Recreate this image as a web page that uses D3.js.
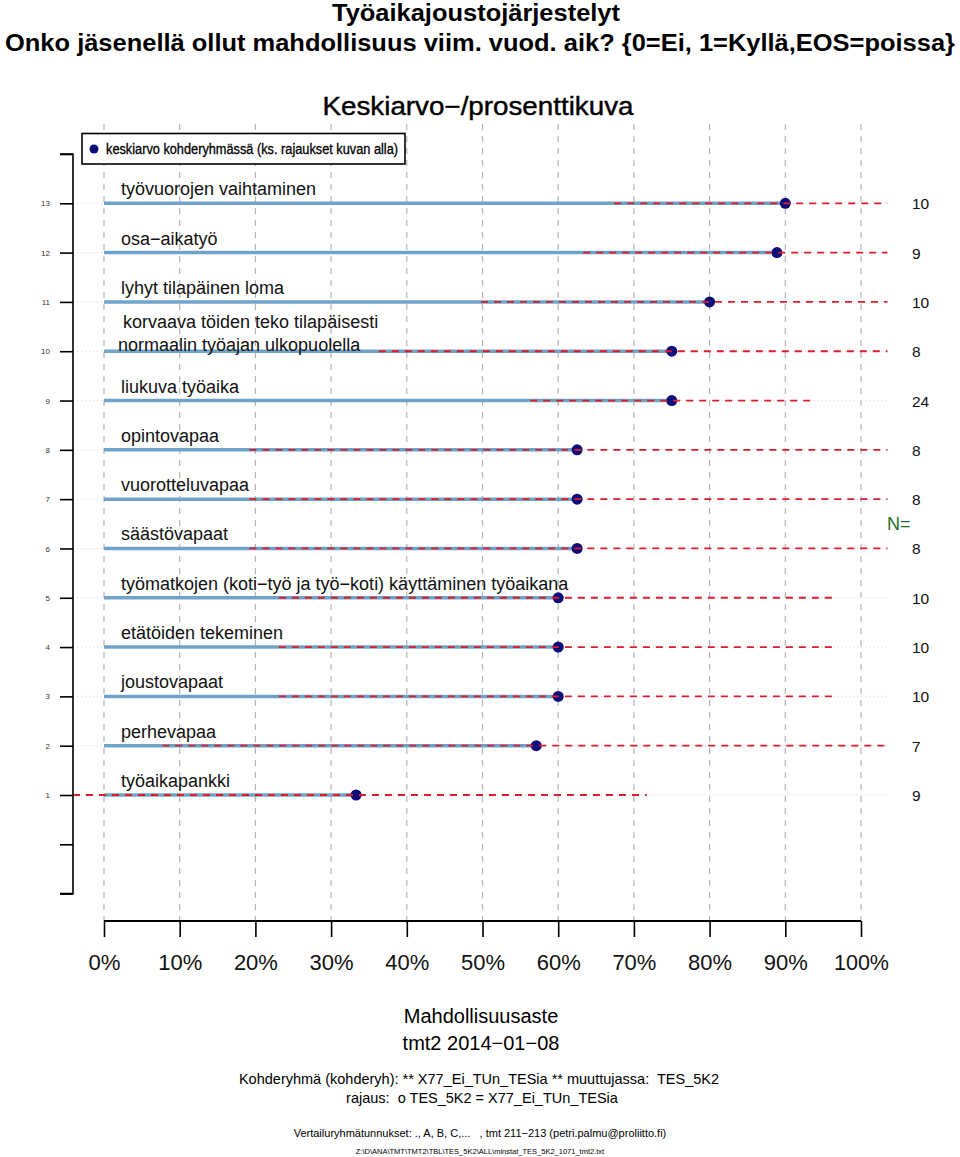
<!DOCTYPE html>
<html><head><meta charset="utf-8">
<script src="https://cdn.jsdelivr.net/npm/d3@7"></script>
<style>body{margin:0;background:#fff}svg{display:block;font-family:"Liberation Sans",Arial,sans-serif}</style>
</head><body><svg id="c" width="960" height="1157"></svg>
<script>
// rows from top (row 13) to bottom (row 1)
const rowIds = [13,12,11,10,9,8,7,6,5,4,3,2,1];
const labels = [
  ["työvuorojen vaihtaminen"],
  ["osa\u2212aikatyö"],
  ["lyhyt tilapäinen loma"],
  [" korvaava töiden teko tilapäisesti","normaalin työajan ulkopuolella"],
  ["liukuva työaika"],
  ["opintovapaa"],
  ["vuorotteluvapaa"],
  ["säästövapaat"],
  ["työmatkojen (koti\u2212työ ja työ\u2212koti) käyttäminen työaikana"],
  ["etätöiden tekeminen"],
  ["joustovapaat"],
  ["perhevapaa"],
  ["työaikapankki"]
];
const values = [90, 88.9, 80, 75, 75, 62.5, 62.5, 62.5, 60, 60, 60, 57.1, 33.3];
const lower  = [67.4, 63.3, 49.8, 36.3, 56.3, 19.2, 19.2, 19.2, 23.1, 23.1, 23.1, 7.7, -5.1];
const upper  = [113.0, 114.5, 110.0, 113.7, 93.7, 105.8, 105.8, 105.8, 96.9, 96.9, 96.9, 106.6, 71.7];
const nValues = [10, 9, 10, 8, 24, 8, 8, 8, 10, 10, 10, 7, 9];
const xTicks = [0,10,20,30,40,50,60,70,80,90,100];
const yTicks = [-1,0,1,2,3,4,5,6,7,8,9,10,11,12,13,14];

const svg = d3.select("#c");
const x = d3.scaleLinear().domain([0,100]).range([104,861]);
const y = d3.scaleLinear().domain([1,13]).range([795,203.3]);
const xMin = -4.1, xMax = 103.5;
const plotTop = 124, plotBottom = 921;

// vertical grid
svg.append("g").selectAll("line").data(xTicks).join("line")
  .attr("x1",d=>x(d)).attr("x2",d=>x(d)).attr("y1",plotTop).attr("y2",plotBottom)
  .attr("stroke","#b4b4b4").attr("stroke-width",1.2).attr("stroke-dasharray","6,6");

// row dotted background
svg.append("g").selectAll("line").data(rowIds).join("line")
  .attr("x1",x(xMin)).attr("x2",x(xMax)).attr("y1",d=>y(d)).attr("y2",d=>y(d))
  .attr("stroke","#d0d0d0").attr("stroke-width",1).attr("stroke-dasharray","1,3");

// blue bars
svg.append("g").selectAll("line").data(rowIds).join("line")
  .attr("x1",x(0)).attr("x2",(d,i)=>x(values[i])).attr("y1",d=>y(d)).attr("y2",d=>y(d))
  .attr("stroke","#6fa3c8").attr("stroke-width",3.5);

// dots
svg.append("g").selectAll("circle").data(rowIds).join("circle")
  .attr("cx",(d,i)=>x(values[i])).attr("cy",d=>y(d)).attr("r",5.5)
  .attr("fill","#0b0b7a");

// red dashed interval
svg.append("g").selectAll("line").data(rowIds).join("line")
  .attr("x1",(d,i)=>x(Math.max(lower[i],xMin))).attr("x2",(d,i)=>x(Math.min(upper[i],xMax)))
  .attr("y1",d=>y(d)).attr("y2",d=>y(d))
  .attr("stroke","#dd1c2c").attr("stroke-width",1.8).attr("stroke-dasharray","7,6");

// row labels
const lg = svg.append("g").attr("font-size",18).attr("fill","#111");
rowIds.forEach((r,i)=>{
  const ls = labels[i];
  if (ls.length===1) {
    lg.append("text").attr("x",121).attr("y",y(r)-8).text(ls[0]);
  } else {
    lg.append("text").attr("x",118).attr("y",y(r)-23).attr("xml:space","preserve").style("white-space","pre").text(ls[0]);
    lg.append("text").attr("x",118).attr("y",y(r)).text(ls[1]);
  }
});

// N values
svg.append("g").selectAll("text").data(rowIds).join("text")
  .attr("x",912).attr("y",d=>y(d)+6).attr("font-size",15.5).attr("fill","#111")
  .text((d,i)=>nValues[i]);
svg.append("text").attr("x",887).attr("y",y(6.5)+6).attr("font-size",18).attr("fill","#1e6e2a").text("N=");

// y axis
const yAxis = d3.axisLeft(y).tickValues(yTicks).tickSize(13).tickPadding(10)
  .tickFormat(d=> (d>=1 && d<=13) ? d : "");
const ya = svg.append("g").attr("transform","translate(73,0)").call(yAxis);
ya.select(".domain").attr("d",`M-13,${y(14)}H0V${y(-1)}H-13`).attr("stroke","#000").attr("stroke-width",1.6).attr("fill","none");
ya.selectAll(".tick line").attr("stroke","#000").attr("stroke-width",1.6);
ya.selectAll(".tick text").attr("font-size",8).attr("fill","#333").attr("font-family","Liberation Sans, Arial, sans-serif");

// x axis
const xAxis = d3.axisBottom(x).tickValues(xTicks).tickSize(16).tickPadding(17).tickFormat(d=>d+"%");
const xa = svg.append("g").attr("transform",`translate(0,${plotBottom})`).call(xAxis);
xa.select(".domain").attr("d",`M${x(0)},0H${x(100)}`).attr("stroke","#000").attr("stroke-width",2);
xa.selectAll(".tick line").attr("stroke","#000").attr("stroke-width",1.6);
xa.selectAll(".tick text").attr("font-size",22).attr("fill","#111").attr("font-family","Liberation Sans, Arial, sans-serif")
  .attr("textLength",d=> d===100 ? 55 : (d===0 ? 32 : 44)).attr("lengthAdjust","spacingAndGlyphs");

// legend
svg.append("rect").attr("x",82).attr("y",133.5).attr("width",323).attr("height",30.5)
  .attr("fill","#fff").attr("stroke","#000").attr("stroke-width",1.6);
svg.append("circle").attr("cx",94).attr("cy",149).attr("r",4.5).attr("fill","#0b0b7a");
svg.append("text").attr("x",106).attr("y",154).attr("font-size",14).attr("fill","#000")
  .attr("stroke","#000").attr("stroke-width",0.3)
  .attr("textLength",292).attr("lengthAdjust","spacingAndGlyphs")
  .text("keskiarvo kohderyhmässä (ks. rajaukset kuvan alla)");

// titles
const t = svg.append("g").attr("text-anchor","middle").attr("fill","#000");
t.append("text").attr("x",476).attr("y",21).attr("font-size",23).attr("font-weight","bold")
  .attr("textLength",288).attr("lengthAdjust","spacingAndGlyphs").text("Työaikajoustojärjestelyt");
t.append("text").attr("x",480).attr("y",51).attr("font-size",23).attr("font-weight","bold")
  .attr("textLength",950).attr("lengthAdjust","spacingAndGlyphs")
  .text("Onko jäsenellä ollut mahdollisuus viim. vuod. aik? {0=Ei, 1=Kyllä,EOS=poissa}");
t.append("text").attr("x",478).attr("y",115).attr("font-size",25).attr("stroke","#000").attr("stroke-width",0.4)
  .attr("textLength",311).attr("lengthAdjust","spacingAndGlyphs").text("Keskiarvo\u2212/prosenttikuva");
t.append("text").attr("x",481).attr("y",1023).attr("font-size",20).text("Mahdollisuusaste");
t.append("text").attr("x",481).attr("y",1050).attr("font-size",20).text("tmt2 2014\u221201\u221208");
t.append("text").attr("x",479).attr("y",1084).attr("font-size",14.5).attr("xml:space","preserve").style("white-space","pre")
  .text("Kohderyhmä (kohderyh): ** X77_Ei_TUn_TESia ** muuttujassa:  TES_5K2");
t.append("text").attr("x",482).attr("y",1103).attr("font-size",14.5).attr("xml:space","preserve").style("white-space","pre")
  .text("rajaus:  o TES_5K2 = X77_Ei_TUn_TESia");
t.append("text").attr("x",480).attr("y",1137).attr("font-size",11).attr("xml:space","preserve").style("white-space","pre")
  .text("Vertailuryhmätunnukset: ., A, B, C,...   , tmt 211\u2212213 (petri.palmu@proliitto.fi)");
t.append("text").attr("x",480).attr("y",1154).attr("font-size",7.5)
  .text("Z:\\D\\ANA\\TMT\\TMT2\\TBL\\TES_5K2\\ALL\\minstat_TES_5K2_1071_tmt2.txt");
</script></body></html>
